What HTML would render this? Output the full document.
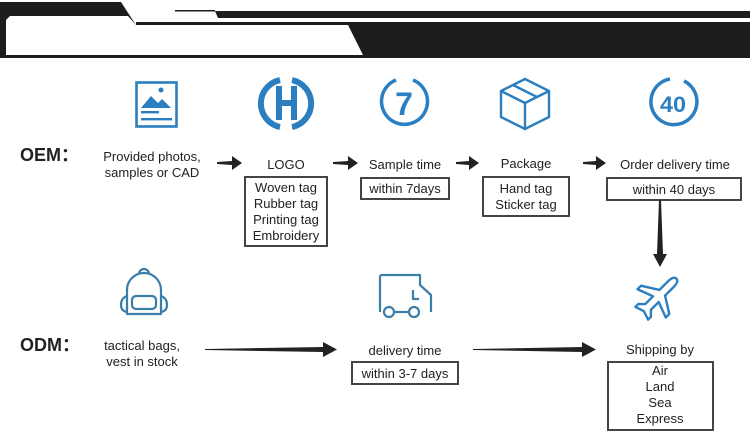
<!DOCTYPE html>
<html><head><meta charset="utf-8"><style>
html,body{margin:0;padding:0;background:#fff;width:750px;height:438px;overflow:hidden}
svg{display:block}
text{font-family:"Liberation Sans","DejaVu Sans",sans-serif;fill:#222}
</style></head><body>
<svg width="750" height="438" viewBox="0 0 750 438" xmlns="http://www.w3.org/2000/svg">
<!-- header -->
<rect x="0" y="2" width="750" height="56" fill="#1c1c1c"/>
<polygon points="6,20 10,16 128,16 136,25 348,25 363,55 6,55" fill="#fff"/>
<polygon points="121,2 750,2 750,11 215,11 218,18 750,18 750,22 136,22 136,25" fill="#fff"/>
<rect x="175" y="10" width="40" height="1.5" fill="#1c1c1c"/>
<!-- image icon -->
<rect x="136.5" y="82.5" width="40" height="44" fill="none" stroke="#2b7fc0" stroke-width="2.6"/>
<polygon points="141,108 151,96 158,103 162,99 171,108" fill="#2b7fc0"/>
<circle cx="161" cy="90" r="2.5" fill="#2b7fc0"/>
<rect x="141" y="111" width="18" height="2.4" fill="#2b7fc0"/>
<rect x="141" y="118" width="31" height="2.4" fill="#2b7fc0"/>
<!-- H logo -->
<path d="M280,80 A24,24 0 0 0 280,127" fill="none" stroke="#2b7fc0" stroke-width="6"/>
<path d="M292,80 A24,24 0 0 1 292,127" fill="none" stroke="#2b7fc0" stroke-width="6"/>
<rect x="276" y="86" width="6" height="34" fill="#2b7fc0"/>
<rect x="291" y="86" width="6" height="34" fill="#2b7fc0"/>
<rect x="276" y="100" width="21" height="6" fill="#2b7fc0"/>
<!-- 7 -->
<path d="M413,80 A23,23 0 1 1 396,80" fill="none" stroke="#2b7fc0" stroke-width="3.5"/>
<text x="404" y="115" font-size="32" font-weight="bold" text-anchor="middle" style="fill:#2b7fc0">7</text>
<!-- box -->
<g fill="none" stroke="#2b7fc0" stroke-width="2.4" stroke-linejoin="round">
<polygon points="525,79 549,91 549,117 525,129 501,117 501,91"/>
<polyline points="501,91 525,103 549,91"/>
<line x1="525" y1="103" x2="525" y2="129"/>
<line x1="513" y1="85" x2="537" y2="97"/>
</g>
<!-- 40 -->
<path d="M684,81 A23,23 0 1 1 670,79" fill="none" stroke="#2b7fc0" stroke-width="3.5"/>
<text x="673" y="112" font-size="22" font-weight="bold" text-anchor="middle" style="fill:#2b7fc0" textLength="26" lengthAdjust="spacingAndGlyphs">40</text>
<!-- OEM row -->
<text x="20" y="161" font-size="18" font-weight="bold">OEM：</text>
<g font-size="13" text-anchor="middle">
<text x="152" y="161">Provided photos,</text>
<text x="152" y="177">samples or CAD</text>
<text x="286" y="169">LOGO</text>
<text x="405" y="169">Sample time</text>
<text x="526" y="168">Package</text>
<text x="675" y="169">Order delivery time</text>
<text x="286" y="192">Woven tag</text>
<text x="286" y="208">Rubber tag</text>
<text x="286" y="224">Printing tag</text>
<text x="286" y="240">Embroidery</text>
<text x="405" y="193">within 7days</text>
<text x="526" y="193">Hand tag</text>
<text x="526" y="209">Sticker tag</text>
<text x="674" y="194">within 40 days</text>
</g>
<g fill="none" stroke="#444" stroke-width="2">
<rect x="245" y="177" width="82" height="69"/>
<rect x="361" y="178" width="88" height="21"/>
<rect x="483" y="177" width="86" height="39"/>
<rect x="607" y="178" width="134" height="22"/>
<rect x="352" y="362" width="106" height="22"/>
<rect x="608" y="362" width="105" height="68"/>
</g>
<!-- arrows -->
<g fill="#222">
<polygon points="217,162 232,161 232,156 242,163 232,170 232,165 217,164"/>
<polygon points="333,162 348,161 348,156 358,163 348,170 348,165 333,164"/>
<polygon points="456,162 469,161 469,156 479,163 469,170 469,165 456,164"/>
<polygon points="583,162 596,161 596,156 606,163 596,170 596,165 583,164"/>
<polygon points="659,200 661,200 663,254 667,254 660,267 653,254 657,254"/>
<polygon points="205,349 323,347 323,342 337,349.5 323,357 323,352 205,350"/>
<polygon points="473,349 582,347 582,342 596,349.5 582,357 582,352 473,350"/>
</g>
<!-- ODM row -->
<text x="20" y="351" font-size="18" font-weight="bold">ODM：</text>
<g font-size="13" text-anchor="middle">
<text x="142" y="350">tactical bags,</text>
<text x="142" y="366">vest in stock</text>
<text x="405" y="355">delivery time</text>
<text x="405" y="378">within 3-7 days</text>
<text x="660" y="354">Shipping by</text>
<text x="660" y="375">Air</text>
<text x="660" y="391">Land</text>
<text x="660" y="407">Sea</text>
<text x="660" y="423">Express</text>
</g>
<!-- backpack -->
<g fill="none" stroke="#3b7fa8" stroke-width="2.2" stroke-linejoin="round">
<path d="M127,314 L127,290 A17,17 0 0 1 161,290 L161,314 Z"/>
<path d="M139,274 A5,5 0 0 1 149,274"/>
<rect x="132" y="296" width="24" height="13" rx="4"/>
<path d="M127,296 Q121,298 121,305 Q121,311 127,312"/>
<path d="M161,296 Q167,298 167,305 Q167,311 161,312"/>
</g>
<!-- truck -->
<g fill="none" stroke="#3b7fa8" stroke-width="2.2" stroke-linejoin="round">
<path d="M380,312 L380,277 A2,2 0 0 1 382,275 L420,275 L420,285 L431,295 L431,312"/>
<polyline points="413,290 413,299 419,299"/>
<circle cx="389" cy="312" r="5"/>
<circle cx="414" cy="312" r="5"/>
<line x1="394" y1="312" x2="409" y2="312"/>
</g>
<!-- plane -->
<g transform="translate(658,297) rotate(45)">
<path d="M0,-26 C3,-26 4,-22 4,-18 L4,-6 L20,4 L20,9 L4,3 L4,14 L9,19 L9,23 L0,20 L-9,23 L-9,19 L-4,14 L-4,3 L-20,9 L-20,4 L-4,-6 L-4,-18 C-4,-22 -3,-26 0,-26 Z" fill="none" stroke="#2b7fc0" stroke-width="2.4" stroke-linejoin="round"/>
</g>
</svg>
</body></html>
